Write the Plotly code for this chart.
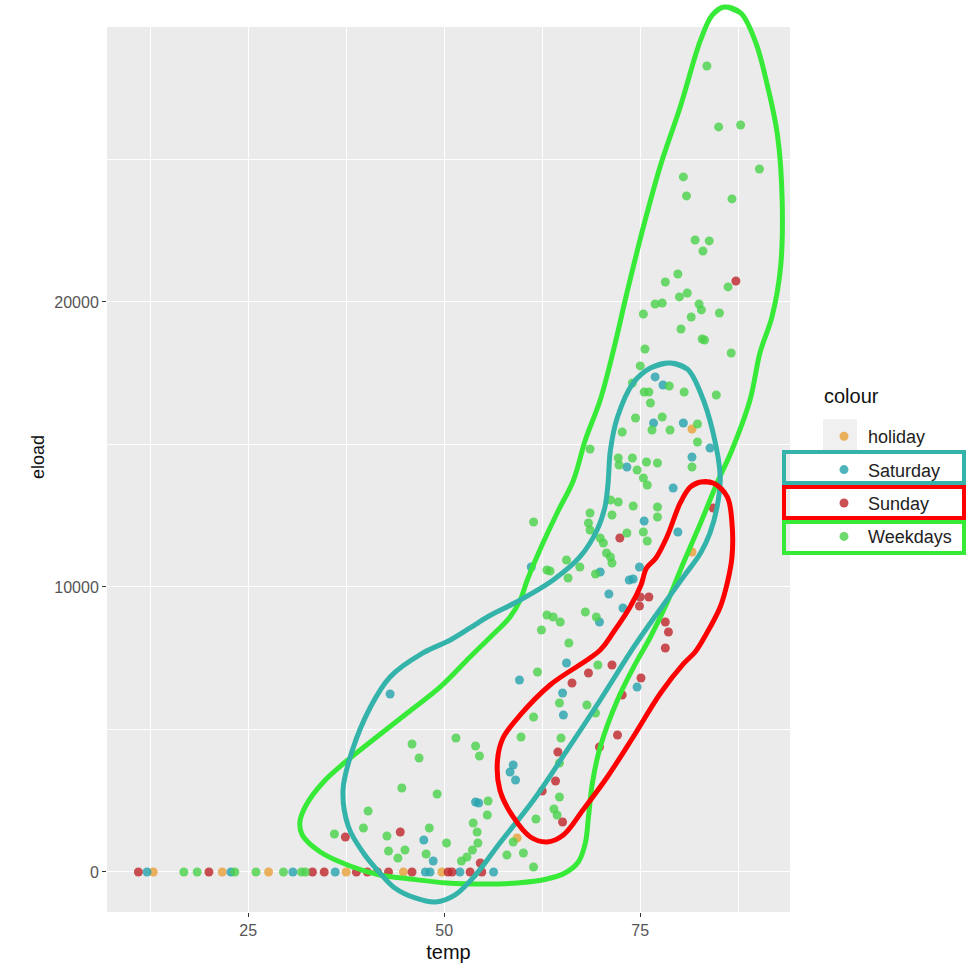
import plotly.graph_objects as go

# ---------------- data (temp, eload) ----------------
holiday_temp = [12.9, 21.7, 27.6, 37.5, 44.8, 49.7, 81.6, 81.6, 59.3]
holiday_eload = [0, 0, 0, 0, 0, 0, 15545, 11229, 1193]

saturday_temp = [12.1, 22.8, 30.7, 36.1, 47.6, 48.2, 52.0, 56.3,
                 76.9, 77.9, 76.7, 80.5, 83.9, 81.6, 73.3, 79.2, 75.5, 79.8,
                 74.9, 69.9, 73.6, 74.1, 71.0, 72.8, 69.8, 61.1, 65.6, 59.6,
                 74.6, 65.1, 65.2, 58.8, 58.4, 59.1, 54.0, 54.4, 47.4, 48.6, 43.1]
saturday_eload = [0, 0, 0, 0, 0, 0, 0, 0,
                  17370, 17089, 15755, 15755, 14878, 14562, 14211, 13475, 12317, 11931,
                  10702, 10527, 10246, 10281, 9755, 9264, 8773, 10702, 7334, 6737,
                  6492, 6281, 5509, 3755, 3509, 3228, 2456, 2420, 1123, 386, 6246]

sunday_temp = [11.0, 20.0, 33.2, 34.7, 38.8, 40.2, 41.5, 42.9, 45.9, 50.5, 51.0, 53.3, 54.8,
               87.2, 72.4, 84.3, 75.0, 76.1, 74.9, 78.2, 78.6, 78.2, 71.4, 68.4,
               66.3, 75.1, 72.7, 72.1, 69.8, 64.5, 64.2, 62.5, 65.1, 44.4, 37.4, 54.6]
sunday_eload = [0, 0, 0, 0, 0, 0, 0, 0, 0, 0, 0, 0, 0,
                20738, 11720, 12773, 9650, 9650, 9334, 8773, 8422, 7860, 7264, 6983,
                6632, 6807, 6211, 4807, 4386, 4211, 3193, 2842, 1754, 1404, 1228, 316]

weekdays_temp = [16.8, 18.5, 23.3, 26.0, 29.5, 31.8, 32.3,
                 83.5, 85.0, 87.8, 90.2, 80.5, 80.9, 86.7, 82.0, 83.8, 83.0,
                 79.8, 78.2, 86.2, 81.0, 80.0, 77.8, 76.9, 82.5, 82.8, 75.4,
                 81.5, 85.1, 80.2, 82.9, 83.2, 75.6, 86.6, 75.0, 78.7, 74.0,
                 75.5, 76.1, 76.3, 80.6, 84.7, 77.8, 74.4, 76.5, 82.3, 78.8,
                 72.7, 82.3, 68.6, 72.2, 74.0, 75.8, 77.2, 81.6, 72.3, 74.6,
                 75.4, 75.9, 71.2, 72.2, 74.1, 77.2, 77.2, 68.6, 71.4, 68.4,
                 68.6, 75.4, 75.9, 73.3, 69.9, 70.3, 70.7, 71.2, 71.4, 65.6,
                 67.3, 69.3, 65.8, 68.0, 69.4, 63.9, 64.8, 65.9, 61.4, 63.1,
                 63.5, 63.1, 62.4, 69.6, 61.9, 64.7, 69.3, 61.4, 68.2, 59.8,
                 64.9, 45.9, 51.5, 54.0, 54.5, 46.8, 64.7, 44.6, 49.1, 55.6,
                 55.5, 64.0, 64.4, 61.7, 53.7, 54.2, 48.1, 58.8, 50.3, 54.3,
                 45.0, 47.7, 60.1, 58.0, 53.6, 52.9, 52.2, 61.4, 40.3, 39.7,
                 36.0, 42.7, 42.9, 44.1, 64.7]
weekdays_eload = [0, 0, 0, 0, 0, 0, 0,
                  28280, 26142, 26212, 24668, 24388, 23721, 23616, 22177, 22142, 21791,
                  20984, 20703, 20528, 20317, 20177, 19966, 19931, 19931, 19721, 19580,
                  19475, 19615, 19054, 18703, 18668, 18352, 18212, 17756, 17054, 17159,
                  16843, 16843, 16457, 16843, 16738, 15966, 15931, 15510, 15720, 15510,
                  15440, 15089, 14843, 14527, 14527, 14387, 14352, 14211, 14282, 14106,
                  13825, 13580, 13053, 12983, 12843, 12808, 12457, 12597, 12527, 12246,
                  12001, 11931, 11615, 11896, 11720, 11545, 11194, 11053, 10843, 10948,
                  10702, 10457, 10316, 9123, 8948, 8948, 8773, 8036, 12282, 10597,
                  10562, 9018, 8492, 7264, 7018, 5930, 5579, 5439, 5860, 4737,
                  4702, 4492, 4702, 4421, 4070, 4000, 3825, 2948, 2737, 2491,
                  2000, 2211, 2000, 1860, 1719, 1404, 1544, 1053, 1018, 1018,
                  772, 632, 667, 597, 772, 526, 386, 175, 2140, 1544,
                  1333, 1263, 737, 491, 2632]

# hand-drawn outlines (temp, eload)
green_outline_temp = [85.7, 87.8, 89.7, 91.2, 92.5, 93.1, 92.9, 91.8, 90.3, 89.0, 86.7, 84.8,
                      82.7, 80.5, 78.4, 76.3, 74.3, 72.1, 69.9, 68.9, 68.4, 68.0, 67.1, 65.4,
                      63.1, 59.3, 55.0, 50.4, 45.7, 41.8, 38.0, 34.2, 31.9, 31.6, 32.4, 34.6,
                      37.4, 40.9, 45.3, 49.5, 53.3, 55.9, 58.4, 59.7, 60.6, 62.2, 64.4, 66.5,
                      68.0, 69.9, 71.6, 73.3, 75.4, 77.6, 80.1, 82.7, 84.2]
green_outline_eload = [30350, 30142, 29125, 27616, 25861, 23580, 21229, 19475, 18247, 16562, 14808, 13650,
                       12246, 10843, 9439, 8246, 7264, 6035, 4386, 3123, 1930, 1018, 351, -35,
                       -246, -386, -421, -386, -246, -105, 211, 702, 1298, 1755, 2351, 3158,
                       3860, 4632, 5579, 6492, 7544, 8246, 8948, 9544, 10246, 11299, 12597, 13755,
                       15159, 16562, 18317, 20317, 22633, 24809, 26844, 29195, 30072]

teal_outline_temp = [78.8, 81.0, 82.7, 84.3, 85.2, 84.8, 83.9, 82.7, 80.5, 78.4, 76.3, 74.1,
                     69.9, 65.7, 61.4, 57.1, 54.0, 51.4, 48.9, 46.3, 43.7, 41.8, 39.7, 37.8,
                     37.1, 38.3, 40.6, 43.1, 47.3, 50.8, 53.3, 55.5, 59.7, 63.9, 67.3, 69.5,
                     70.5, 70.9, 71.2, 72.1, 74.1, 76.3]
teal_outline_eload = [17861, 17650, 16808, 15405, 13861, 12808, 11896, 11194, 10352, 9544, 8737, 7860,
                      6035, 4281, 2526, 1018, -105, -807, -1053, -912, -561, -35, 667, 1579,
                      2877, 4281, 5790, 6843, 7685, 8141, 8562, 8948, 9544, 10246, 11053, 12001,
                      12808, 13650, 14808, 15966, 17159, 17685]

red_outline_temp = [82.7, 84.3, 86.1, 86.7, 86.7, 86.1, 85.2, 83.5, 82.0, 80.5, 77.6, 74.1,
                    70.8, 67.7, 65.2, 63.1, 61.0, 58.8, 57.1, 56.8, 57.5, 59.7, 63.5, 69.9,
                    71.6, 73.7, 75.1, 75.8, 77.0, 78.4, 80.1, 81.4]
red_outline_eload = [13685, 13650, 13159, 12246, 11053, 10141, 9299, 8387, 7720, 7299, 6281, 4737,
                     3334, 2176, 1298, 1053, 1228, 1930, 2877, 3930, 4702, 5509, 6562, 7790,
                     8422, 9299, 10071, 10667, 11018, 11755, 12948, 13510]

x_tick_vals = [25, 50, 75]
x_tick_labels = ["25", "50", "75"]
x_minor_vals = [12.5, 37.5, 62.5, 87.5]
y_tick_vals = [0, 10000, 20000]
y_tick_labels = ["0", "10000", "20000"]
y_minor_vals = [5000, 15000, 25000]
legend_names = ["holiday", "Saturday", "Sunday", "Weekdays"]

# ---------------- figure ----------------
X_RANGE = [7.0, 94.1]
Y_RANGE = [-1404, 30526]
PANEL_TOP = 29650
W, H = 966, 967
ML, MR, MT, MB = 107, 176, 2, 55
PW, PH = W - ML - MR, H - MT - MB


def paper_x(px):
    return (px - ML) / PW


def paper_y(py):
    return (H - MB - py) / PH


FONT = "Liberation Sans, Arial, sans-serif"
point_colors = ["#E8A13A", "#2AA4AE", "#BF2A2E", "#4CD24C"]
series = [
    (holiday_temp, holiday_eload),
    (saturday_temp, saturday_eload),
    (sunday_temp, sunday_eload),
    (weekdays_temp, weekdays_eload),
]

fig = go.Figure()
for name, (xs, ys), col in zip(legend_names, series, point_colors):
    fig.add_trace(go.Scatter(
        x=xs, y=ys, mode="markers", name=name, legendgroup=name,
        marker=dict(color=col, size=9, opacity=0.82, line=dict(width=0)),
    ))

outlines = [
    (green_outline_temp, green_outline_eload, "#38EA38"),
    (teal_outline_temp, teal_outline_eload, "#33B3A9"),
    (red_outline_temp, red_outline_eload, "#FF0000"),
]
for xs, ys, col in outlines:
    cx = [xs[-1]] + xs + xs[:2]
    cy = [ys[-1]] + ys + ys[:2]
    fig.add_trace(go.Scatter(
        x=cx, y=cy, mode="lines", showlegend=False, hoverinfo="skip",
        line=dict(color=col, width=5, shape="spline", smoothing=1.0),
    ))

shapes = [
    dict(type="rect", xref="x", yref="y", x0=X_RANGE[0], x1=X_RANGE[1],
         y0=Y_RANGE[0], y1=PANEL_TOP, fillcolor="#EBEBEB", line=dict(width=0), layer="below"),
    # legend key background for the first entry
    dict(type="rect", xref="paper", yref="paper", x0=paper_x(823), x1=paper_x(857),
         y0=paper_y(452), y1=paper_y(419), fillcolor="#F0F0F0", line=dict(width=0), layer="below"),
]
for (y0, y1, col) in [(452, 483, "#33B3A9"), (487, 518, "#FF0000"), (522, 553, "#38EA38")]:
    shapes.append(dict(type="rect", xref="paper", yref="paper",
                       x0=paper_x(784), x1=paper_x(964), y0=paper_y(y1), y1=paper_y(y0),
                       line=dict(color=col, width=4), fillcolor="rgba(0,0,0,0)", layer="above"))

axis_common = dict(
    showgrid=True, gridcolor="white", gridwidth=1.4, zeroline=False, showline=False,
    ticks="outside", ticklen=4, tickwidth=1, tickcolor="#333333",
    tickfont=dict(size=16, color="#555555", family=FONT),
)

fig.update_layout(
    width=W, height=H,
    margin=dict(l=ML, r=MR, t=MT, b=MB, pad=0),
    paper_bgcolor="white", plot_bgcolor="white",
    font=dict(family=FONT, color="#222222"),
    shapes=shapes,
    xaxis=dict(range=X_RANGE, tickvals=x_tick_vals, ticktext=x_tick_labels,
               minor=dict(tickvals=x_minor_vals, showgrid=True, gridcolor="white", gridwidth=0.7, ticks=""),
               title=dict(text="temp", font=dict(size=20, color="#111111"), standoff=6),
               **axis_common),
    yaxis=dict(range=Y_RANGE, tickvals=y_tick_vals, ticktext=y_tick_labels,
               minor=dict(tickvals=y_minor_vals, showgrid=True, gridcolor="white", gridwidth=0.7, ticks=""),
               title=dict(text="eload", font=dict(size=18, color="#111111"), standoff=4),
               **axis_common),
    legend=dict(
        x=paper_x(820), y=paper_y(418), xanchor="left", yanchor="top",
        bgcolor="rgba(0,0,0,0)", tracegroupgap=7, itemwidth=38,
        font=dict(size=18, color="#222222", family=FONT),
    ),
    annotations=[dict(
        text="colour", xref="paper", yref="paper", x=paper_x(822), y=paper_y(396),
        xanchor="left", yanchor="middle", showarrow=False,
        font=dict(size=20, color="#111111", family=FONT),
    )],
)

fig.write_html("out.html")
